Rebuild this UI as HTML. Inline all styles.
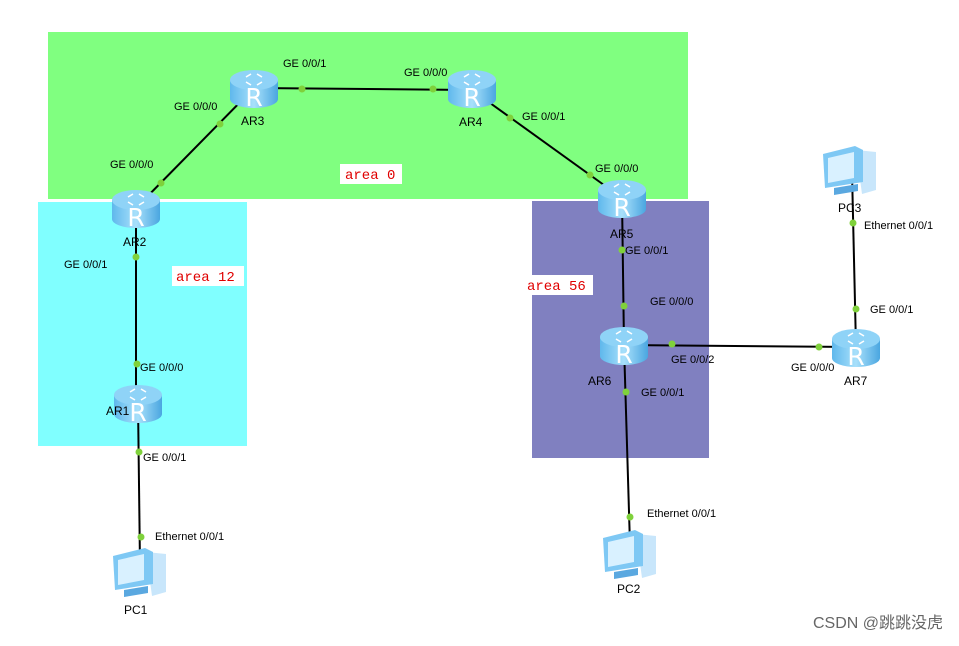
<!DOCTYPE html>
<html><head><meta charset="utf-8"><style>
body{margin:0;background:#fff}
svg text{font-family:"Liberation Sans",sans-serif;font-size:11px;fill:#000}
.ar{font-size:12px}
.area{font-family:"Liberation Mono",monospace;font-size:14px;fill:#e00000}
</style></head><body>
<svg width="959" height="641" viewBox="0 0 959 641" xmlns="http://www.w3.org/2000/svg">
<defs>
<linearGradient id="rg" x1="0" x2="1"><stop offset="0" stop-color="#5fb8ec"/><stop offset="0.5" stop-color="#a8e0fb"/><stop offset="1" stop-color="#4aa6e0"/></linearGradient>
<g id="r">
<path d="M-24,-8 L-24,11 A24,9 0 0 0 24,11 L24,-8 Z" fill="url(#rg)"/>
<ellipse cx="0" cy="-8" rx="24" ry="10" fill="#8fd3f7"/>
<path d="M-8,-11 l5,-3 M3,-14 l5,3 M-8,-6 l5,3 M3,-3 l5,-3" stroke="#fff" stroke-width="1.6"/>
<text x="0" y="18" text-anchor="middle" style="font-size:25px;fill:#fff;font-family:'DejaVu Sans',sans-serif">R</text>
</g>
<g id="pc">
<path d="M6,-20 l20,2 v38 l-14,4 z" fill="#c8e6fb"/>
<path d="M-27,-16 l32,-8 l8,4 v32 l-38,6 z" fill="#7ec8f4"/>
<path d="M-22,-12 l26,-6 v26 l-26,5 z" fill="#d9f1ff"/>
<path d="M-16,18 l24,-4 v7 l-24,4 z" fill="#5aa8e0"/>
</g>
</defs>
<rect x="48" y="32" width="640" height="167" fill="#80ff80"/>
<rect x="38" y="202" width="209" height="244" fill="#80ffff"/>
<rect x="532" y="201" width="177" height="257" fill="#8080c0"/>
<g stroke="#000" stroke-width="2" fill="none">
<line x1="254" y1="88" x2="472" y2="90"/>
<line x1="254" y1="88" x2="136" y2="208"/>
<line x1="472" y1="90" x2="622" y2="198"/>
<line x1="136" y1="208" x2="136" y2="403"/>
<line x1="138" y1="403" x2="140" y2="565"/>
<line x1="622" y1="198" x2="624" y2="345"/>
<line x1="624" y1="345" x2="630" y2="545"/>
<line x1="624" y1="345" x2="856" y2="347"/>
<line x1="856" y1="347" x2="852" y2="172"/>
</g>
<g fill="#7fd13b">
<circle cx="302" cy="89" r="3.5"/><circle cx="433" cy="89" r="3.5"/>
<circle cx="220" cy="124" r="3.5"/><circle cx="161" cy="183" r="3.5"/>
<circle cx="510" cy="118" r="3.5"/><circle cx="590" cy="175" r="3.5"/>
<circle cx="136" cy="257" r="3.5"/><circle cx="137" cy="364" r="3.5"/>
<circle cx="139" cy="452" r="3.5"/><circle cx="141" cy="537" r="3.5"/>
<circle cx="622" cy="250" r="3.5"/><circle cx="624" cy="306" r="3.5"/>
<circle cx="672" cy="344" r="3.5"/><circle cx="819" cy="347" r="3.5"/>
<circle cx="626" cy="392" r="3.5"/><circle cx="630" cy="517" r="3.5"/>
<circle cx="853" cy="223" r="3.5"/><circle cx="856" cy="309" r="3.5"/>
</g>
<use href="#r" x="254" y="88"/><use href="#r" x="472" y="88"/>
<use href="#r" x="136" y="208"/><use href="#r" x="622" y="198"/>
<use href="#r" x="138" y="403"/><use href="#r" x="624" y="345"/>
<use href="#r" x="856" y="347"/>
<use href="#pc" x="140" y="572"/><use href="#pc" x="630" y="554"/><use href="#pc" x="850" y="170"/>
<text class="ar" x="241" y="125">AR3</text><text class="ar" x="459" y="126">AR4</text>
<text class="ar" x="123" y="246">AR2</text><text class="ar" x="610" y="238">AR5</text>
<text class="ar" x="106" y="415">AR1</text><text class="ar" x="588" y="385">AR6</text>
<text class="ar" x="844" y="385">AR7</text>
<text class="ar" x="124" y="614">PC1</text><text class="ar" x="617" y="593">PC2</text><text class="ar" x="838" y="212">PC3</text>
<text x="283" y="67">GE 0/0/1</text><text x="404" y="76">GE 0/0/0</text>
<text x="174" y="110">GE 0/0/0</text><text x="110" y="168">GE 0/0/0</text>
<text x="522" y="120">GE 0/0/1</text><text x="595" y="172">GE 0/0/0</text>
<text x="64" y="268">GE 0/0/1</text><text x="140" y="371">GE 0/0/0</text>
<text x="143" y="461">GE 0/0/1</text><text x="155" y="540">Ethernet 0/0/1</text>
<text x="625" y="254">GE 0/0/1</text><text x="650" y="305">GE 0/0/0</text>
<text x="671" y="363">GE 0/0/2</text><text x="791" y="371">GE 0/0/0</text>
<text x="641" y="396">GE 0/0/1</text><text x="647" y="517">Ethernet 0/0/1</text>
<text x="864" y="229">Ethernet 0/0/1</text><text x="870" y="313">GE 0/0/1</text>
<rect x="340" y="164" width="62" height="20" fill="#fff"/><text class="area" x="345" y="179">area 0</text>
<rect x="172" y="266" width="72" height="20" fill="#fff"/><text class="area" x="176" y="281">area 12</text>
<rect x="525" y="275" width="68" height="20" fill="#fff"/><text class="area" x="527" y="290">area 56</text>
<text x="943" y="628" text-anchor="end" style="font-size:16px;fill:#666;font-family:'Liberation Sans','Noto Sans CJK SC',sans-serif">CSDN @跳跳没虎</text>
</svg>
</body></html>
